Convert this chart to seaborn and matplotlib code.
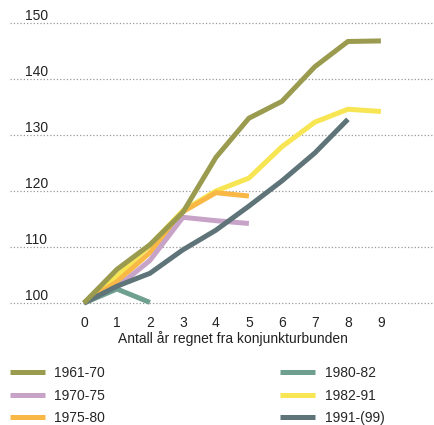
import pandas as pd
import matplotlib.pyplot as plt
import seaborn as sns

# Index (bunnår = 100) per konjunkturoppgang
years = list(range(10))
s1961_70 = [100, 106, 110.4, 116.2, 126, 133, 136, 142.2, 146.7, 146.8]
s1970_75 = [100, 102.8, 107.6, 115.3, 114.7, 114.2]
s1975_80 = [100, 103.8, 109, 116.3, 119.7, 119.1]
s1980_82 = [100, 102.5, 100.1]
s1982_91 = [100, 104.8, 110.3, 116.5, 120, 122.3, 127.9, 132.3, 134.6, 134.2]
s1991_99 = [100, 103, 105.3, 109.5, 113, 117.3, 121.8, 126.8, 132.8]

labels = ['1961-70', '1970-75', '1975-80', '1980-82', '1982-91', '1991-(99)']
series = [s1961_70, s1970_75, s1975_80, s1980_82, s1982_91, s1991_99]
colors = ['#9a9b4f', '#c8a3c8', '#f9b845', '#6fa08f', '#f7e553', '#5f7479']
yticks = [100, 110, 120, 130, 140, 150]

rows = []
for lab, vals in zip(labels, series):
    for x, v in zip(years, vals):
        rows.append({'år': x, 'indeks': v, 'periode': lab})
df = pd.DataFrame(rows)

sns.set_style('white')
plt.rcParams['font.family'] = ['Liberation Sans', 'DejaVu Sans']

fig = plt.figure(figsize=(4.35, 4.25), dpi=100)
ax = fig.add_axes([10 / 435, 1 - 308.6 / 425, 1 - 10 / 435, (308.6 - 17.4) / 425])

# tegnerekkefølge: olivengrønn øverst
draw_order = ['1982-91', '1975-80', '1970-75', '1980-82', '1991-(99)', '1961-70']
handles = {}
for lab in draw_order:
    i = labels.index(lab)
    sub = df[df['periode'] == lab]
    sns.lineplot(data=sub, x='år', y='indeks', color=colors[i], lw=3.6,
                 solid_capstyle='butt', ax=ax, legend=False)
    handles[lab] = ax.lines[-1]

ax.set_xlim(-2.24, 10.64)
ax.set_ylim(99, 151)
ax.set_yticks(yticks)
ax.set_yticklabels([])
ax.tick_params(axis='y', length=0)
ax.set_xticks(years)
ax.tick_params(axis='x', length=0, pad=5, labelsize=10, labelcolor='#222222')
ax.grid(axis='y', linestyle=':', color='#999999', lw=0.9)
ax.grid(axis='x', visible=False)
for sp in ax.spines.values():
    sp.set_visible(False)

for t in yticks:
    ax.text(15 / 425, t, str(t), transform=ax.get_yaxis_transform(),
            ha='left', va='bottom', fontsize=10, color='#222222')

ax.set_xlabel('Antall år regnet fra konjunkturbunden', fontsize=10,
              color='#222222', labelpad=1)
ax.xaxis.set_label_coords((233 - 10) / 425, -0.078)
ax.set_ylabel('')

fig.legend([handles[l] for l in labels], labels, loc='upper left',
           bbox_to_anchor=(10 / 435, 1 - 366 / 425), ncol=2, frameon=False,
           fontsize=10, handlelength=2.5, handletextpad=0.7,
           columnspacing=12.6, labelspacing=0.62, borderpad=0, borderaxespad=0)

fig.savefig('out.png', dpi=100)
